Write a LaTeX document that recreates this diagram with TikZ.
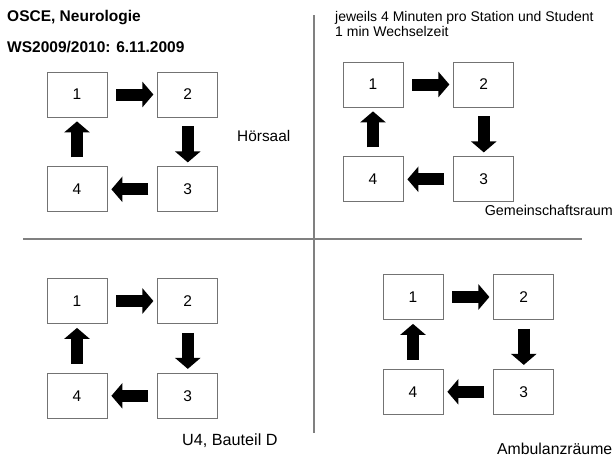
\documentclass[tikz,border=0pt]{standalone}
\usepackage{fontspec}
\setmainfont{Liberation Sans}
\usetikzlibrary{positioning,arrows.meta}
\begin{document}
\begin{tikzpicture}[x=1pt,y=-1pt,
	station/.style={draw=gray!90!black,line width=0.8pt,minimum width=60pt,minimum height=45pt,inner sep=0pt,font=\fontsize{15.5}{17}\selectfont},
	flow/.style={line width=12pt,-{Triangle[length=11pt,width=25pt]},shorten <=9pt,shorten >=4pt},
	divider/.style={draw=gray,line width=1.5pt}]
	\tikzset{txt/.style={inner sep=0pt,anchor=west,font=\fontsize{14}{15}\selectfont}}
	\useasboundingbox (0,0) rectangle (614,458);
	% headings
	\node[txt,font=\bfseries\fontsize{15.5}{17}\selectfont] (title) at (7,18) {OSCE, Neurologie};
	\node[txt,font=\bfseries\fontsize{15.5}{17}\selectfont] (date) at (7,47) {WS2009/2010: 6.11.2009};
	\node[txt,align=left,anchor=north west] (info) at (335,11) {jeweils 4 Minuten pro Station und Student\\1 min Wechselzeit};
	% dividers
	\coordinate (hl) at (23,239); \coordinate (hr) at (582,239);
	\coordinate (vt) at (314,15); \coordinate (vb) at (314,433);
	\draw[divider] (hl) -- (hr) (vt) -- (vb);
	% the four rooms
	\foreach \q/\x/\y in {a/77/94.5,b/373/84.5,c/77/301,d/413/297}{
		\node[station] (\q1) at (\x,\y) {1};
		\node[station,right=50pt of \q1] (\q2) {2};
		\node[station,below=49pt of \q2] (\q3) {3};
		\node[station,below=49pt of \q1] (\q4) {4};
		\draw[flow] (\q1) -- (\q2);
		\draw[flow] (\q2) -- (\q3);
		\draw[flow] (\q3) -- (\q4);
		\draw[flow] (\q4) -- (\q1);
	}
	\node[txt,font=\fontsize{15.4}{17}\selectfont] (hs) at (237,136) {Hörsaal};
	\node[txt,anchor=east,font=\fontsize{14.3}{17}\selectfont] (gr) at (613,210) {Gemeinschaftsraum};
	\node[txt,font=\fontsize{16.2}{18}\selectfont] (u4) at (182,441) {U4, Bauteil D};
	\node[txt,font=\fontsize{15.8}{18}\selectfont] (amb) at (497,449) {Ambulanzräume};
\end{tikzpicture}
\end{document}
